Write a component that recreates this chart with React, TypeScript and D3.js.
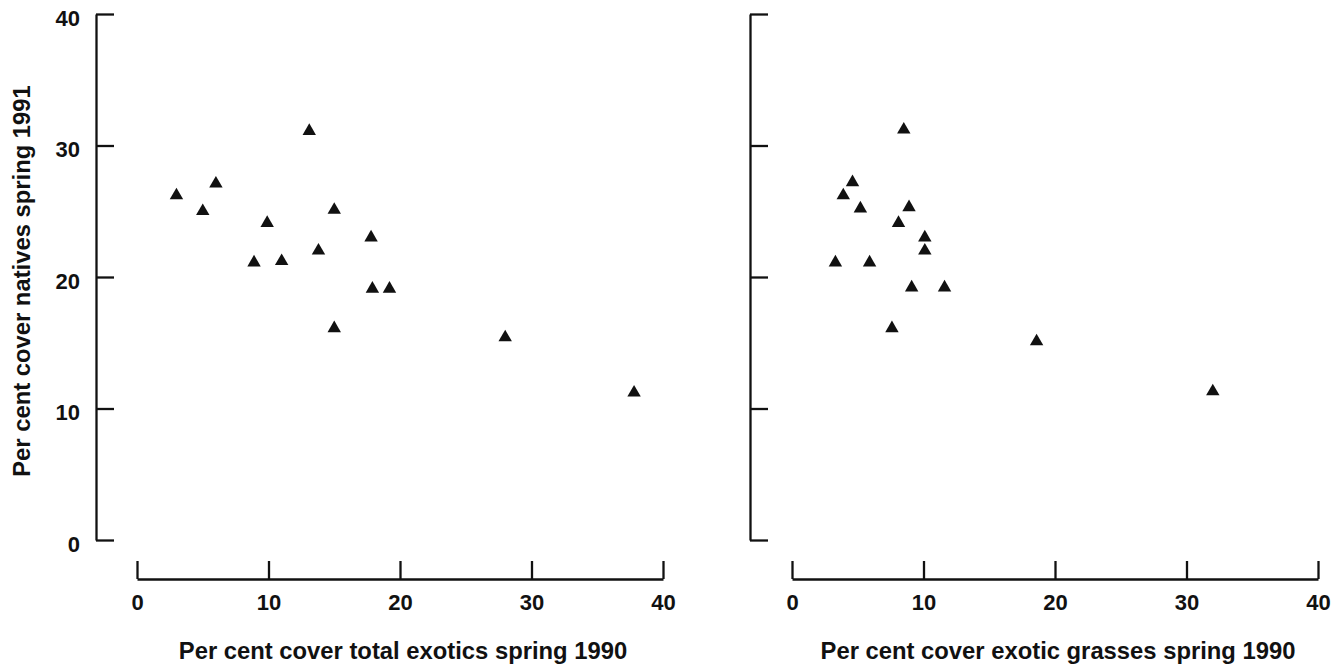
import React, { useEffect, useRef } from "react";
import * as d3 from "d3";

// tick values shared by every axis
const tickValues = [0, 10, 20, 30, 40];

// left panel: total exotics (x) vs natives (y)
const totalExotics = [3, 5, 6, 8.9, 9.9, 11, 13.1, 13.8, 15, 15, 17.8, 17.9, 19.2, 28, 37.8];
const nativesLeft = [26.2, 25, 27.1, 21.1, 24.1, 21.2, 31.1, 22, 25.1, 16.1, 23, 19.1, 19.1, 15.4, 11.2];

// right panel: exotic grasses (x) vs natives (y)
const exoticGrasses = [8.5, 4.6, 3.9, 5.2, 8.9, 8.1, 10.1, 10.1, 3.3, 5.9, 9.1, 11.6, 7.6, 18.6, 32.0];
const nativesRight = [31.2, 27.2, 26.2, 25.2, 25.3, 24.1, 23.0, 22.0, 21.1, 21.1, 19.2, 19.2, 16.1, 15.1, 11.3];

const yTitle = "Per cent cover natives spring 1991";
const xTitleLeft = "Per cent cover total exotics spring 1990";
const xTitleRight = "Per cent cover exotic grasses spring 1990";

const FONT = "'Liberation Sans', Arial, sans-serif";

function App() {
  const ref = useRef<SVGSVGElement | null>(null);

  useEffect(() => {
    if (!ref.current) return;
    const svg = d3.select(ref.current);
    svg.selectAll("*").remove();

    const yScale = d3.scaleLinear().domain([0, 40]).range([540, 14]);

    const panels = [
      { yAxisX: 96, x0: 137, x1: 663, xs: totalExotics, ys: nativesLeft, title: xTitleLeft, showY: true },
      { yAxisX: 750, x0: 792, x1: 1318, xs: exoticGrasses, ys: nativesRight, title: xTitleRight, showY: false },
    ];

    const tri = d3.symbol().type(d3.symbolTriangle).size(78);

    panels.forEach((p) => {
      const xScale = d3.scaleLinear().domain([0, 40]).range([p.x0, p.x1]);

      const yAxis = d3.axisLeft(yScale)
        .tickValues(tickValues)
        .tickSizeInner(-18)
        .tickSizeOuter(0)
        .tickPadding(16)
        .tickFormat((d) => (p.showY ? String(d) : ""));

      const gy = svg.append("g")
        .attr("transform", `translate(${p.yAxisX},0)`)
        .call(yAxis);
      gy.selectAll("text").attr("dy", "0.5em");

      const xAxis = d3.axisBottom(xScale)
        .tickValues(tickValues)
        .tickSizeInner(-18)
        .tickSizeOuter(0)
        .tickPadding(15)
        .tickFormat((d) => String(d));

      const gx = svg.append("g")
        .attr("transform", `translate(0,579)`)
        .call(xAxis);

      [gy, gx].forEach((g) => {
        g.selectAll("path, line").attr("stroke", "#111").attr("stroke-width", 2.3);
        g.selectAll("text")
          .attr("fill", "#111")
          .style("font-family", FONT)
          .style("font-size", "22px")
          .style("font-weight", "bold");
      });

      svg.append("text")
        .attr("x", (p.x0 + p.x1) / 2 + 3)
        .attr("y", 659)
        .attr("text-anchor", "middle")
        .attr("fill", "#111")
        .style("font-family", FONT)
        .style("font-size", "23.8px")
        .style("font-weight", "bold")
        .text(p.title);

      svg.append("g")
        .selectAll("path")
        .data(p.xs.map((x, i) => ({ x, y: p.ys[i] })))
        .enter()
        .append("path")
        .attr("d", tri as any)
        .attr("transform", (d) => `translate(${xScale(d.x)},${yScale(d.y)})`)
        .attr("fill", "#111");
    });

    svg.append("text")
      .attr("transform", `translate(30,281) rotate(-90)`)
      .attr("text-anchor", "middle")
      .attr("fill", "#111")
      .style("font-family", FONT)
      .style("font-size", "23.8px")
      .style("font-weight", "bold")
      .text(yTitle);
  }, []);

  return (
    <svg
      ref={ref}
      width={1341}
      height={668}
      style={{ position: "absolute", left: 0, top: 0, background: "#fff" }}
    ></svg>
  );
}

export default App;
